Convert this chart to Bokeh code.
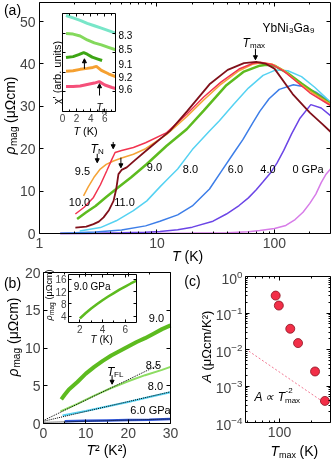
import math
from bokeh.plotting import figure
from bokeh.models import (Range1d, LinearAxis, LogAxis, LinearScale, LogScale, FixedTicker, Label, Arrow,
                          NormalHead, BasicTickFormatter, LogTickFormatter, CustomJSTickFormatter)
from bokeh.embed import file_html
from bokeh.resources import INLINE

FONT = "Liberation Sans"
PI2 = math.pi / 2
W, H = 332, 463

# ---------------- panel (a): rho_mag(T) at several pressures ----------------
T_00 = [1.5, 5, 10, 20, 40, 60, 75, 100, 125, 150, 175, 200, 225, 250, 275, 300]
R_00 = [0.0, 0.0, 0.05, 0.1, 0.2, 0.4, 0.7, 1.2, 1.9, 3.3, 5.0, 7.1, 9.3, 12.0, 14.0, 15.2]
T_40 = [1.5, 3, 5, 8, 10.6, 15, 20, 30, 39, 50, 60, 70, 80, 92, 105, 120, 140, 165, 204, 250, 300]
R_40 = [0.0, 0.05, 0.15, 0.3, 0.5, 0.9, 1.5, 2.9, 4.6, 6.6, 8.4, 10.3, 12.2, 14.2, 16.6, 19.6, 23.5, 27.2, 30.4, 29.6, 27.8]
T_60 = [1.5, 2, 3, 5, 8, 10.6, 15, 20, 28, 36, 45, 54, 65, 75, 90, 110, 145, 180, 230, 300]
R_60 = [0.05, 0.15, 0.35, 0.8, 1.8, 2.9, 4.4, 6.5, 10.5, 15.0, 19.0, 22.2, 26.0, 28.8, 31.8, 34.0, 35.1, 34.6, 33.2, 31.0]
T_80 = [2.2, 3.3, 4.5, 6.3, 8.2, 10.6, 12.1, 15, 20, 28, 34, 45, 60, 80, 103, 130, 170, 220, 300]
R_80 = [0.6, 1.4, 3.0, 5.4, 7.7, 11.0, 12.6, 15.2, 19.8, 24.2, 26.6, 30.5, 34.3, 37.3, 38.6, 38.4, 37.0, 34.5, 31.0]
T_90 = [2.09, 2.5, 3, 3.7, 4.55, 6, 8.2, 12.1, 17.9, 25, 39, 55, 75, 85, 100, 130, 170, 220, 300]
R_90 = [3.4, 5.0, 6.5, 8.6, 10.6, 13.2, 16.4, 20.7, 24.6, 29.0, 35.0, 38.2, 39.6, 39.8, 39.6, 37.8, 35.4, 33.2, 30.6]
T_95 = [2.37, 2.6, 2.9, 3.29, 3.7, 4.26, 5, 6.3, 8, 12.1, 18, 25, 35, 50, 65, 78, 95, 120, 150, 200, 300]
R_95 = [8.9, 11.0, 13.2, 15.2, 16.3, 17.1, 17.8, 18.7, 20.0, 23.4, 27.6, 31.5, 35.2, 38.4, 39.9, 40.3, 40.0, 38.5, 36.2, 33.6, 30.5]
T_100 = [2.02, 2.4, 2.88, 3.3, 3.74, 4.1, 4.4, 5, 6.3, 8, 12.1, 18, 25, 35, 50, 65, 76, 95, 120, 150, 200, 300]
R_100 = [4.6, 6.2, 8.5, 11.5, 14.8, 17.3, 19.1, 19.6, 20.3, 21.4, 23.8, 28.2, 32.2, 35.7, 38.8, 40.1, 40.4, 39.9, 38.3, 36.1, 33.2, 30.2]
T_110 = [2.02, 2.5, 2.88, 3.2, 3.51, 3.9, 4.27, 4.5, 4.7, 5.0, 5.53, 6.5, 8.7, 12.9, 18, 28, 40, 55, 70, 85, 100, 143, 200, 256, 300]
R_110 = [1.4, 1.6, 2.2, 2.8, 3.8, 5.5, 7.7, 10.5, 14.0, 15.0, 15.6, 17.3, 20.3, 24.2, 28.8, 35.2, 38.6, 40.2, 40.5, 40.0, 38.9, 32.9, 28.5, 25.8, 24.0]

# inset (a): chi'(T), offset curves (arb. units)
IA_T_83 = [0.5, 1.5, 2.5, 3.5, 4.5, 5.5, 6.5, 7.5]
IA_Y_83 = [9.8, 9.55, 9.3, 9.0, 8.75, 8.5, 8.25, 8.0]
IA_T_85 = [0.5, 1.5, 2.5, 3.5, 4.5, 5.5, 6.5, 7.5]
IA_Y_85 = [7.95, 7.9, 7.7, 7.3, 7.0, 6.8, 6.55, 6.3]
IA_T_91 = [0.5, 1.5, 2.3, 3.0, 3.5, 4.2, 5.0, 5.6]
IA_Y_91 = [5.5, 5.6, 5.8, 6.0, 5.85, 5.55, 5.35, 5.2]
IA_T_92 = [0.5, 1.5, 2.5, 3.5, 4.3, 4.8, 5.5, 6.5, 7.5]
IA_Y_92 = [4.1, 4.15, 4.3, 4.4, 4.5, 4.6, 4.2, 3.85, 3.55]
IA_T_96 = [0.5, 1.5, 2.5, 3.5, 4.5, 5.2, 6.0, 7.0, 7.5]
IA_Y_96 = [2.55, 2.55, 2.6, 2.75, 2.9, 3.05, 2.7, 2.45, 2.35]

# ---------------- panel (b): rho_mag vs T^2 ----------------
B_T2_90 = [4.2, 5, 6, 7, 8, 10, 12, 14, 16, 18, 20, 22, 24, 26, 28, 30]
B_R_90 = [3.2, 3.8, 4.5, 5.0, 5.5, 6.6, 7.5, 8.3, 9.0, 9.6, 10.2, 10.8, 11.3, 11.9, 12.5, 13.0]
B_T2_85 = [4, 8, 12, 16, 20, 24, 28, 30]
B_R_85 = [1.6, 2.6, 3.7, 4.7, 5.6, 6.4, 7.1, 7.5]
B_T2_80 = [4.5, 10, 15, 20, 25, 30]
B_R_80 = [1.05, 1.65, 2.25, 2.85, 3.5, 4.15]
B_T2_60 = [5, 10, 15, 20, 25, 30]
B_R_60 = [0.3, 0.35, 0.4, 0.45, 0.5, 0.6]
FIT_T2_85 = [0, 27]
FIT_R_85 = [0.4, 7.7]
FIT_T2_80 = [0, 30]
FIT_R_80 = [0.3, 4.2]
FIT_T2_60 = [0, 30]
FIT_R_60 = [0.15, 0.6]
# inset (b): 9.0 GPa rho_mag(T)
IB_T = [2, 2.5, 3, 3.5, 4, 4.5, 5, 5.5, 6, 6.5, 7]
IB_R = [3.3, 5.0, 6.5, 7.9, 9.2, 10.4, 11.5, 12.6, 13.6, 14.6, 15.5]

# ---------------- panel (c): A vs Tmax ----------------
C_TMAX = [92, 98.5, 126, 149, 215, 266]
C_A = [0.30, 0.16, 0.037, 0.015, 0.0025, 0.00039]
C_FIT_T = [48, 266]
C_FIT_A = [0.0104, 0.00034]

# arrows (x, y_start, y_end) in data units
ARR_A = [(68.9, 43.6, 41.0), (3.1, 18.8, 16.7), (4.24, 21.6, 20.0), (4.93, 17.9, 15.5)]
ARR_IA = [(3.1, 4.36, 5.38), (5.24, 1.63, 2.83)]
ARR_B = [(16.2, 6.4, 5.2)]

COL = {"0": "#d77ce8", "4": "#6b45e6", "6": "#3d7ee8", "8": "#55d2f2", "9": "#5dbb1f",
       "95": "#f5a336", "10": "#f2334f", "11": "#80101a",
       "i83": "#78e6c8", "i85": "#84d95c", "i91": "#3da514", "i92": "#f5a030", "i96": "#f5507a",
       "b85": "#8ddc62", "b60": "#2f55d8", "dot": "#f27a94", "pt": "#f22f48"}

# ---------------- one canvas, page-pixel default ranges ----------------
p = figure(width=W, height=H, x_range=Range1d(0, W), y_range=Range1d(H, 0),
           output_backend="svg", toolbar_location=None, title=None,
           x_axis_location=None, y_axis_location=None, min_border=0)
p.styles = {"position": "fixed", "left": "0px", "top": "0px"}
p.grid.visible = False
p.outline_line_color = None
p.background_fill_color = "white"
p.border_fill_color = "white"


def span(a, b, pa, pb, ps, pe, log=False):
    f = math.log10 if log else (lambda v: v)
    g = (lambda v: 10 ** v) if log else (lambda v: v)
    fa, fb = f(a), f(b)
    k = (fb - fa) / (pb - pa)
    return Range1d(g(fa + (ps - pa) * k), g(fa + (pe - pa) * k))


XR, YR, XS, YS = {}, {}, {}, {}
BOX = {}


def panel(name, xr, yr, box, xlog=False, ylog=False):
    L, R, T, B = box
    XR[name] = span(xr[0], xr[1], L, R, 0, W, xlog)
    YR[name] = span(yr[0], yr[1], B, T, H, 0, ylog)
    XS[name] = LogScale() if xlog else LinearScale()
    YS[name] = LogScale() if ylog else LinearScale()
    BOX[name] = (xr, yr, xlog, ylog)


panel("a", (1, 300), (0, 54.5), (39, 330, 2, 233), xlog=True)
panel("ia", (0, 7.5), (0, 10), (62, 115, 13, 111))
panel("b", (0, 30), (0, 20), (43, 170, 272, 423))
panel("ib", (1, 7), (2, 17.5), (68, 136, 274, 322))
panel("c", (48, 300), (1e-4, 1), (245, 330, 276, 422), xlog=True, ylog=True)
p.extra_x_ranges = XR
p.extra_y_ranges = YR
p.extra_x_scales = XS
p.extra_y_scales = YS


def axis(name, side, ticks, minor=None, labels=True, size="14px", standoff=3, fmt=None, tin=4, mtin=2):
    xr, yr, xlog, ylog = BOX[name]
    horiz = side in ("below", "above")
    log = xlog if horiz else ylog
    own = xr if horiz else yr
    cross = yr if horiz else xr
    loc = cross[0] if side in ("below", "left") else cross[1]
    ax = (LogAxis if log else LinearAxis)(x_range_name=name, y_range_name=name,
                                          fixed_location=loc, bounds=own)
    ax.ticker = FixedTicker(ticks=ticks, minor_ticks=minor or [])
    ax.major_tick_in = tin
    ax.major_tick_out = 0
    ax.minor_tick_in = mtin
    ax.minor_tick_out = 0
    ax.axis_line_color = "black"
    ax.axis_line_width = 1
    ax.major_tick_line_color = "black"
    ax.minor_tick_line_color = "black"
    if labels:
        ax.major_label_text_font = FONT
        ax.major_label_text_font_size = size
        ax.major_label_standoff = standoff
        ax.formatter = fmt if fmt is not None else BasicTickFormatter()
    else:
        ax.formatter = CustomJSTickFormatter(code="return ''")
        ax.major_label_text_font_size = "0px"
        ax.major_label_standoff = 0
    p.add_layout(ax, side)


def frame_axes(name, xt, xm, yt, ym, xlab=True, ylab=True, size="14px", fmty=None, tin=4, mtin=2,
               xstand=4, ystand=3):
    axis(name, "below", xt, xm, labels=xlab, size=size, standoff=xstand, tin=tin, mtin=mtin)
    axis(name, "above", xt, xm, labels=False, tin=tin, mtin=mtin)
    axis(name, "left", yt, ym, labels=ylab, size=size, standoff=ystand, fmt=fmty, tin=tin, mtin=mtin)
    axis(name, "right", yt, ym, labels=False, tin=tin, mtin=mtin)


def txt(px, py, s, size, italic=False, align="left", base="middle", angle=0.0):
    p.add_layout(Label(x=px, y=py, text=s, text_font=FONT, text_font_size=f"{size}px",
                       text_font_style="italic" if italic else "normal",
                       text_align=align, text_baseline=base, angle=angle, text_color="black"))


def arrows(name, lst, size=4):
    for x, y0, y1 in lst:
        p.add_layout(Arrow(x_start=x, y_start=y0, x_end=x, y_end=y1, x_range_name=name, y_range_name=name,
                           line_width=1, line_color="black",
                           end=NormalHead(size=size, fill_color="black", line_color="black", line_width=1)))


def line(name, x, y, color, width, dash="solid"):
    p.line(x, y, x_range_name=name, y_range_name=name, line_color=color, line_width=width, line_dash=dash)


# ======================= panel (a) =======================
for T, R, c, w in [(T_00, R_00, COL["0"], 1.5), (T_40, R_40, COL["4"], 1.5), (T_60, R_60, COL["6"], 1.5),
                   (T_80, R_80, COL["8"], 1.5), (T_90, R_90, COL["9"], 2.5), (T_95, R_95, COL["95"], 1.5),
                   (T_100, R_100, COL["10"], 1.5), (T_110, R_110, COL["11"], 1.8)]:
    line("a", T, R, c, w)
frame_axes("a", [1, 10, 100], [2, 3, 4, 5, 6, 7, 8, 9, 20, 30, 40, 50, 60, 70, 80, 90, 200],
           [0, 10, 20, 30, 40, 50], [], xstand=4, ystand=4)
arrows("a", ARR_A)

txt(12, 9, "(a)", 14, align="center")
txt(9, 154, "ρ", 14, italic=True, angle=PI2)
txt(12.5, 145.5, "mag", 10, angle=PI2)
txt(9, 122.5, "(μΩcm)", 14, angle=PI2)
txt(171.5, 255, "T", 14, italic=True)
txt(184, 255, "(K)", 14)
txt(262, 27, "YbNi", 12, base="alphabetic")
txt(288.5, 30, "3", 8, base="alphabetic")
txt(293, 27, "Ga", 12, base="alphabetic")
txt(309.5, 30, "9", 8, base="alphabetic")
txt(242, 42, "T", 12, italic=True, base="alphabetic")
txt(249.5, 45, "max", 8, base="alphabetic")
txt(90, 148, "T", 12, italic=True, base="alphabetic")
txt(97.5, 151, "N", 8, base="alphabetic")
for s, px, py in [("9.5", 82, 170), ("10.0", 79, 201), ("11.0", 124, 201), ("9.0", 154, 166.5),
                  ("8.0", 190, 168.5), ("6.0", 235, 168.5), ("4.0", 267.5, 168.5), ("0 GPa", 307.5, 168.5)]:
    txt(px, py, s, 11, align="center")

# ----- inset (a) -----
for T, Y, c in [(IA_T_83, IA_Y_83, COL["i83"]), (IA_T_85, IA_Y_85, COL["i85"]), (IA_T_91, IA_Y_91, COL["i91"]),
                (IA_T_92, IA_Y_92, COL["i92"]), (IA_T_96, IA_Y_96, COL["i96"])]:
    line("ia", T, Y, c, 3)
frame_axes("ia", [0, 2, 4, 6], [1, 3, 5, 7], [2, 4, 6, 8], [], ylab=False, size="10px", tin=3, mtin=2,
           xstand=2)
arrows("ia", ARR_IA)
for s, py in [("8.3", 34.5), ("8.5", 48.3), ("9.1", 63.3), ("9.2", 76), ("9.6", 88.3)]:
    txt(118, py, s, 10)
txt(96, 107, "T", 10, italic=True, base="alphabetic")
txt(101.5, 110.5, "N", 7, base="alphabetic")
txt(56, 72, "χ' (arb. units)", 11, align="center", angle=PI2)
txt(73, 130, "T", 11, italic=True)
txt(82.5, 130, "(K)", 11)

# ======================= panel (b) =======================
line("b", B_T2_90, B_R_90, COL["9"], 4)
line("b", B_T2_85, B_R_85, COL["b85"], 2)
line("b", B_T2_80, B_R_80, COL["8"], 2)
line("b", B_T2_60, B_R_60, COL["b60"], 2.5)
for fx, fy in [(FIT_T2_85, FIT_R_85), (FIT_T2_80, FIT_R_80), (FIT_T2_60, FIT_R_60)]:
    line("b", fx, fy, "black", 1, "1 1")
frame_axes("b", [0, 10, 20, 30], [5, 15, 25], [0, 5, 10, 15, 20], [], xstand=4, ystand=3)
arrows("b", ARR_B)
txt(12, 282, "(b)", 14, align="center")
txt(12, 376, "ρ", 14, italic=True, angle=PI2)
txt(15.5, 367, "mag", 10, angle=PI2)
txt(12, 343.5, "(μΩcm)", 14, angle=PI2)
txt(86, 449, "T", 14, italic=True)
txt(94.6, 449, "² (K²)", 14)
for s, px, py in [("9.0", 156, 317), ("8.5", 153, 364), ("8.0", 155, 385), ("6.0 GPa", 150, 409)]:
    txt(px, py, s, 11, align="center")
txt(106.5, 371, "T", 12, italic=True, base="alphabetic")
txt(113.5, 374, "FL", 8, base="alphabetic")

# ----- inset (b) -----
line("ib", IB_T, IB_R, COL["9"], 2.5)
frame_axes("ib", [2, 4, 6], [3, 5], [4, 8, 12, 16], [], size="10px", tin=3, mtin=2, xstand=2, ystand=2)
txt(73.3, 286, "9.0 GPa", 10)
txt(48, 320, "ρ", 9, italic=True, angle=PI2)
txt(50.5, 314.5, "mag", 6.5, angle=PI2)
txt(48, 299, "(μΩcm)", 9, angle=PI2)
txt(90, 339, "T", 10, italic=True)
txt(98.9, 339, "(K)", 10)

# ======================= panel (c) =======================
line("c", C_FIT_T, C_FIT_A, COL["dot"], 1, "2 2")
p.scatter(C_TMAX, C_A, x_range_name="c", y_range_name="c", size=9,
          fill_color=COL["pt"], line_color="#8a1020", line_width=0.8)
ymC = [k * 10.0 ** e for e in range(-4, 0) for k in range(2, 10)]
frame_axes("c", [100], [50, 60, 70, 80, 90, 200], [1e-4, 1e-3, 1e-2, 1e-1, 1], ymC,
           fmty=LogTickFormatter(), xstand=4, ystand=3)
txt(192, 280, "(c)", 14, align="center")
txt(206, 382, "A", 13, italic=True, angle=PI2)
txt(206, 370, "(μΩcm/K²)", 13, angle=PI2)
txt(270, 450, "T", 14, italic=True)
txt(278.6, 454, "max", 9)
txt(299, 450, "(K)", 14)
txt(254, 396, "A ∝ T", 12, italic=True)
txt(284.5, 400, "max", 8)
txt(285, 389.5, "-2", 8)

open("out.html", "w").write(file_html(p, INLINE))
